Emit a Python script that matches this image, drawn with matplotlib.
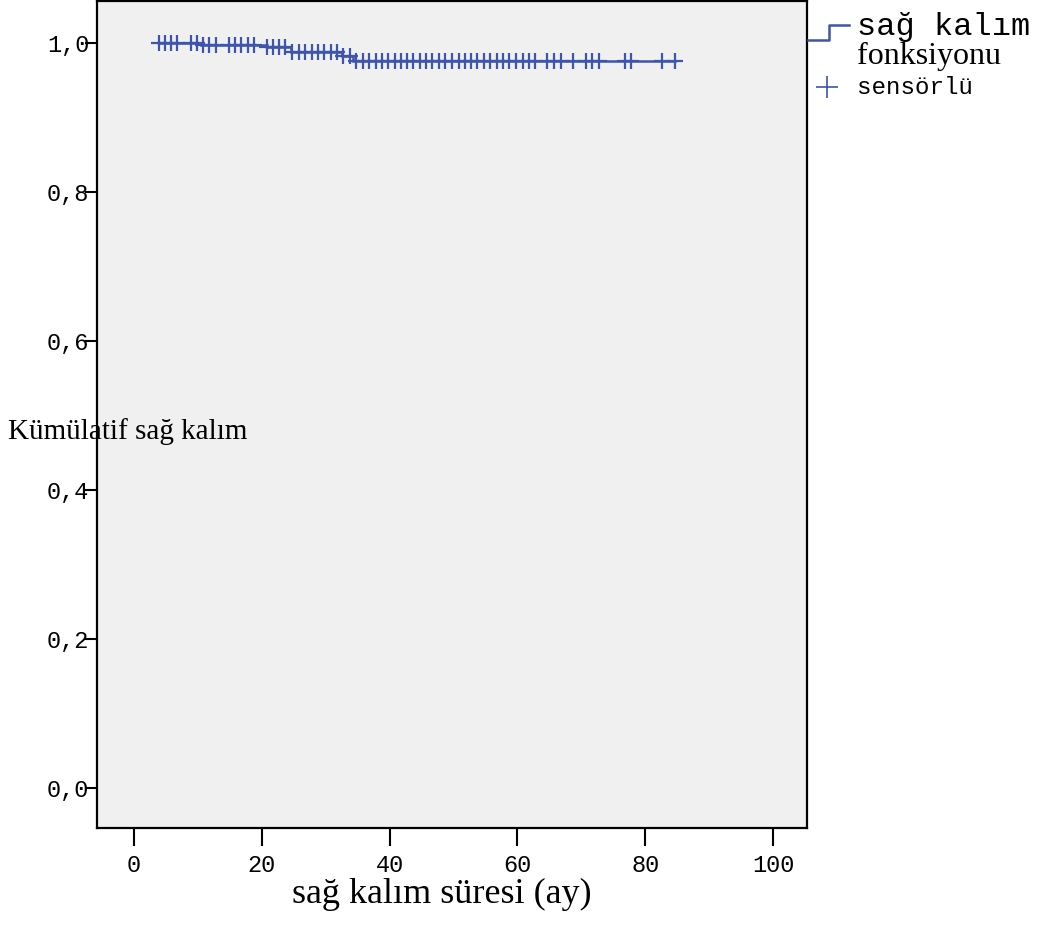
import numpy as np
import matplotlib
matplotlib.use("Agg")
import matplotlib.pyplot as plt
from matplotlib.lines import Line2D

# ---- data ----
event_times = [10.5, 20.8, 24.6, 32.5, 34.3]
surv_levels = [1.0, 0.997, 0.994, 0.988, 0.982, 0.976]  # level before first event, then after each event
censor_times = [3.9, 4.9, 5.8, 6.7, 8.9, 9.8, 10.8, 11.8, 12.8, 14.9, 15.8, 16.8, 17.8, 18.8,
                20.8, 21.8, 22.7, 23.7, 24.8, 25.8, 26.8, 27.8, 28.8, 29.8, 30.8, 31.8, 32.7,
                33.8, 34.8, 35.9, 36.8, 37.8, 38.8, 39.8, 40.8, 41.8, 42.8, 43.7, 44.8, 45.7,
                46.7, 47.7, 48.7, 49.7, 50.8, 51.8, 52.7, 53.7, 54.7, 55.7, 56.8, 57.7, 58.7,
                59.8, 60.8, 61.8, 62.8, 64.7, 65.7, 66.8, 68.7, 70.7, 71.7, 72.7, 76.8, 77.7,
                82.7, 84.7]
x_ticks = [0, 20, 40, 60, 80, 100]
y_ticks = [0.0, 0.2, 0.4, 0.6, 0.8, 1.0]
y_tick_labels = ["0,0", "0,2", "0,4", "0,6", "0,8", "1,0"]

BLUE = "#3d55ad"
W, H = 1037, 944
fig = plt.figure(figsize=(W / 100, H / 100), dpi=100)

def fx(px):
    return px / W

def fy(py):
    return 1 - py / H

ax = fig.add_axes([fx(97), fy(828), fx(807) - fx(97), fy(1) - fy(828)])
ax.set_facecolor("#f0f0f0")

# step curve
t0, t1 = censor_times[0], censor_times[-1]
xs = [t0] + event_times + [t1]
ys = [surv_levels[0]] + surv_levels[1:] + [surv_levels[-1]]
ax.step(xs, ys, where="post", color=BLUE, lw=1.8, solid_joinstyle="miter", zorder=3)

# censor marks
ev = np.array(event_times)
idx = np.searchsorted(ev, np.array(censor_times), side="right")
cy = np.array(surv_levels)[idx]
ax.plot(censor_times, cy, ls="none", marker="+", ms=12, mew=1.6, color=BLUE, zorder=4)

ax.set_xlim(-5.79, 105.32)
ax.set_ylim(-0.0537, 1.0564)
ax.set_xticks(x_ticks)
ax.set_xticklabels([str(v) for v in x_ticks], fontfamily="Liberation Mono", fontsize=17)
ax.set_yticks(y_ticks)
ax.set_yticklabels(y_tick_labels, fontfamily="Liberation Mono", fontsize=17)
ax.tick_params(axis="y", direction="out", length=8.6, width=1.5, pad=-3.2, colors="black")
ax.tick_params(axis="x", direction="out", length=13, width=1.5, pad=6, colors="black")
for s in ax.spines.values():
    s.set_linewidth(1.6)
    s.set_color("black")

# axis titles
fig.text(fx(8), fy(432), "Kümülatif sağ kalım", fontfamily="Liberation Serif", fontsize=21,
         ha="left", va="center")
fig.text(fx(442), fy(903), "sağ kalım süresi (ay)", fontfamily="Liberation Serif", fontsize=26,
         ha="center", va="baseline")

# legend (manual)
fig.add_artist(Line2D([fx(808), fx(829), fx(829), fx(849)], [fy(40), fy(40), fy(25), fy(25)],
                      color=BLUE, lw=1.8, transform=fig.transFigure))
fig.add_artist(Line2D([fx(827)], [fy(87)], marker="+", ms=16, mew=1.2, color=BLUE, ls="none",
                      transform=fig.transFigure))
fig.text(fx(857), fy(27), "sağ kalım", fontfamily="Liberation Mono", fontsize=23,
         ha="left", va="center")
fig.text(fx(857), fy(56), "fonksiyonu", fontfamily="Liberation Serif", fontsize=23,
         ha="left", va="center")
fig.text(fx(857), fy(88), "sensörlü", fontfamily="Liberation Mono", fontsize=17.4,
         ha="left", va="center")

fig.savefig("out.png", dpi=100, facecolor="white")
